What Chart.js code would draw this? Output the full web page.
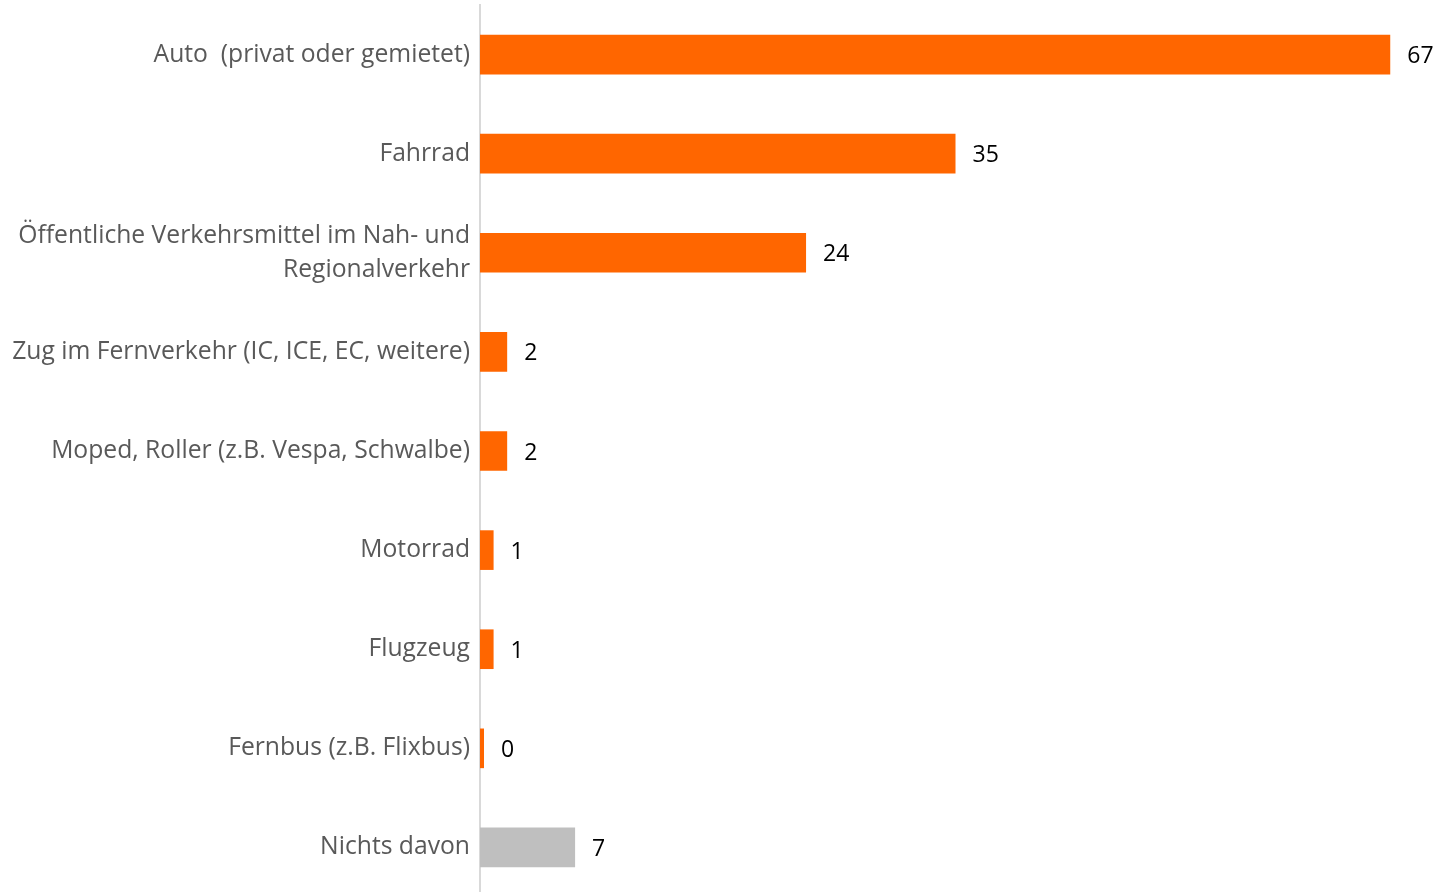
<!DOCTYPE html>
<html>
<head>
<meta charset="utf-8">
<script src="https://cdn.jsdelivr.net/npm/chart.js@4/dist/chart.umd.min.js"></script>
<style>
  html, body { margin: 0; padding: 0; background: #fff; overflow: hidden; }
  #wrap { position: relative; width: 1439px; height: 897px; }
</style>
</head>
<body>
<div id="wrap"><canvas id="chart"></canvas></div>
<script>
// Verkehrsmittel (Mehrfachnennung, Angaben in %)
const categories = [
  'Auto  (privat oder gemietet)',
  'Fahrrad',
  ['Öffentliche Verkehrsmittel im Nah- und', 'Regionalverkehr'],
  'Zug im Fernverkehr (IC, ICE, EC, weitere)',
  'Moped, Roller (z.B. Vespa, Schwalbe)',
  'Motorrad',
  'Flugzeug',
  'Fernbus (z.B. Flixbus)',
  'Nichts davon'
];
const values = [67, 35, 24, 2, 2, 1, 1, 0, 7];
const noneCategory = 'Nichts davon';

const ORANGE = '#ff6600';
const GREY = '#bfbfbf';
const FONT = '"Open Sans", "Noto Sans", sans-serif';

// Writes the value just to the right of each bar's end
const valueLabels = {
  id: 'valueLabels',
  afterDatasetsDraw(chart) {
    const { ctx } = chart;
    const meta = chart.getDatasetMeta(0);
    ctx.save();
    ctx.font = '23px ' + FONT;
    ctx.fillStyle = '#000000';
    ctx.textAlign = 'left';
    ctx.textBaseline = 'middle';
    meta.data.forEach((bar, i) => {
      ctx.fillText(String(chart.data.datasets[0].data[i]), bar.x + 17, bar.y + 2);
    });
    ctx.restore();
  }
};

new Chart(document.getElementById('chart'), {
  type: 'bar',
  data: {
    labels: categories,
    datasets: [{
      data: values,
      backgroundColor: (c) => categories[c.dataIndex] === noneCategory ? GREY : ORANGE,
      borderWidth: 0,
      categoryPercentage: 1,
      barPercentage: 0.4,
      minBarLength: 4
    }]
  },
  options: {
    indexAxis: 'y',
    responsive: true,
    maintainAspectRatio: false,
    animation: false,
    layout: { padding: { top: 5, right: 8, bottom: 0, left: 0 } },
    plugins: { legend: { display: false }, tooltip: { enabled: false } },
    scales: {
      x: { display: false, min: 0, max: 70 },
      y: {
        afterFit(scale) {
          scale.width = 480;
          scale.paddingTop = 0;
          scale.paddingBottom = 0;
        },
        grid: { display: false, drawTicks: false },
        border: { display: true, color: '#d9d9d9', width: 2 },
        ticks: {
          color: '#595959',
          padding: 10,
          font: { family: FONT, size: 24.7, lineHeight: 1.37 }
        }
      }
    }
  },
  plugins: [valueLabels]
});
</script>
</body>
</html>
